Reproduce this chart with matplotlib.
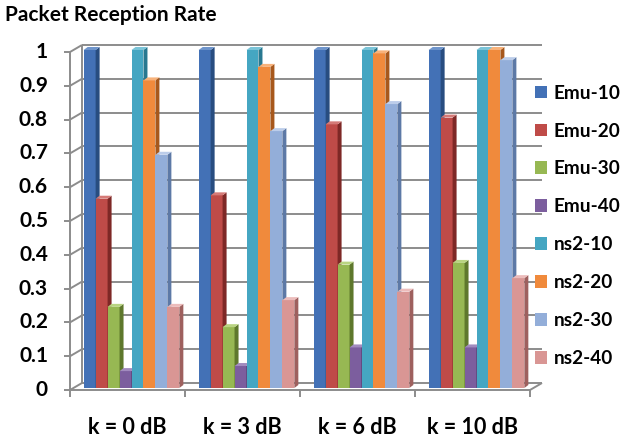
import numpy as np
import matplotlib.pyplot as plt
from matplotlib.patches import Polygon

plt.rcParams['font.family'] = ['Lato', 'DejaVu Sans']

categories = ['k = 0 dB', 'k = 3 dB', 'k = 6 dB', 'k = 10 dB']
series = ['Emu-10', 'Emu-20', 'Emu-30', 'Emu-40',
          'ns2-10', 'ns2-20', 'ns2-30', 'ns2-40']

emu_10 = [1.0, 1.0, 1.0, 1.0]
emu_20 = [0.56, 0.57, 0.78, 0.80]
emu_30 = [0.24, 0.18, 0.365, 0.37]
emu_40 = [0.05, 0.065, 0.12, 0.12]
ns2_10 = [1.0, 1.0, 1.0, 1.0]
ns2_20 = [0.91, 0.95, 0.99, 1.0]
ns2_30 = [0.69, 0.76, 0.84, 0.97]
ns2_40 = [0.24, 0.26, 0.285, 0.325]
values = [emu_10, emu_20, emu_30, emu_40, ns2_10, ns2_20, ns2_30, ns2_40]

y_ticks = [0, 0.1, 0.2, 0.3, 0.4, 0.5, 0.6, 0.7, 0.8, 0.9, 1]

front = ['#4371b6', '#bf4b48', '#97b853', '#7c5e9e',
         '#45a6c2', '#f08a3c', '#93aed9', '#d99694']
side = ['#284d80', '#7e2826', '#5e782c', '#4d3968',
        '#287890', '#a7581c', '#5d79a6', '#9e605e']
top = ['#6f95cc', '#d57a77', '#b9d482', '#a28bbf',
       '#7ac4d8', '#f8b27a', '#bccdea', '#ecbcbb']

W, H = 633, 441
fig = plt.figure(figsize=(W / 100, H / 100), dpi=100)

# front plane of the box, in pixels
x0, x1 = 70, 530
y0, y1 = 390, 52
ax = fig.add_axes([x0 / W, 1 - y0 / H, (x1 - x0) / W, (y0 - y1) / H])
ax.set_xlim(0, len(categories))
ax.set_ylim(0, 1)
ax.axis('off')

px = len(categories) / (x1 - x0)
py = 1 / (y0 - y1)
wall_dx, wall_dy = 12 * px, 7 * py
bar_dx, bar_dy = 4 * px, 3 * py
shift_x, shift_y = 4 * px, 2 * py

grid = '#8c8c8c'
glw = 1.4
n = len(categories)
kw = dict(color=grid, lw=glw, clip_on=False, zorder=1, solid_capstyle='butt')
for t in y_ticks:
    ax.plot([wall_dx, n + wall_dx], [t + wall_dy] * 2, **kw)
    ax.plot([0, wall_dx], [t, t + wall_dy], **kw)
    ax.plot([-6 * px, 0], [t, t], **kw)
    ax.text(-22 * px, t, f'{t:g}', ha='right', va='center',
            fontsize=15, fontweight='bold')
ax.plot([0, 0], [0, 1], **kw)
ax.plot([wall_dx, wall_dx], [wall_dy, 1 + wall_dy], **kw)
ax.plot([0, n], [0, 0], **kw)
ax.plot([n, n + wall_dx], [0, wall_dy], **kw)
for j in range(n + 1):
    ax.plot([j, j], [0, -7 * py], **kw)

bw = 0.104
margin = (1 - bw * len(series)) / 2
handles = []
for j in range(n):
    for i, vals in enumerate(values):
        v = vals[j]
        x = j + margin + i * bw + shift_x
        z = 3 + j * 10 + i
        b = ax.bar(x, v, width=bw, bottom=shift_y, align='edge',
                   color=front[i], lw=0, zorder=z, clip_on=False)
        if j == 0:
            handles.append(b)
        yt = shift_y + v
        ax.add_patch(Polygon([(x + bw, shift_y), (x + bw, yt),
                              (x + bw + bar_dx, yt + bar_dy),
                              (x + bw + bar_dx, shift_y + bar_dy)],
                             closed=True, fc=side[i], lw=0, zorder=z,
                             clip_on=False))
        ax.add_patch(Polygon([(x, yt), (x + bw, yt),
                              (x + bw + bar_dx, yt + bar_dy),
                              (x + bar_dx, yt + bar_dy)],
                             closed=True, fc=top[i], lw=0, zorder=z,
                             clip_on=False))

for j, c in enumerate(categories):
    ax.text(j + 0.5, -38 * py, c, ha='center', va='center',
            fontsize=15.5, fontweight='bold')

fig.text(5 / W, 1 - 15 / H, 'Packet Reception Rate', ha='left',
         va='center', fontsize=15, fontweight='bold')

ax.legend(handles, series, loc='upper left',
          bbox_to_anchor=(527 / W, 1 - 77 / H),
          bbox_transform=fig.transFigure, frameon=False,
          handlelength=0.65, handleheight=0.65, handletextpad=0.35,
          labelspacing=1.1, borderaxespad=0,
          prop=dict(size=13.7, weight='bold'))

fig.savefig('out.png', dpi=100)
